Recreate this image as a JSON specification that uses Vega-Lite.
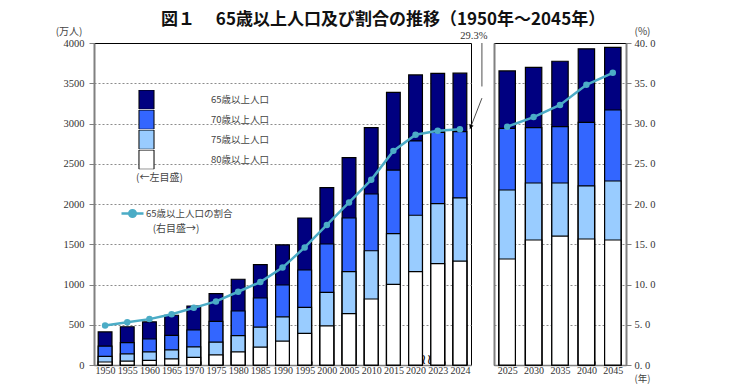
{
  "$schema": "https://vega.github.io/schema/vega-lite/v6.json",
  "padding": {"left": 54, "top": 10, "right": 5, "bottom": 1},
  "background": "white",
  "title": {"text": "図１　 65歳以上人口及び割合の推移（1950年～2045年）", "font": "Noto Sans CJK JP", "fontSize": 17, "fontWeight": "bold", "color": "#111", "anchor": "start", "frame": "group", "offset": -3, "dx": 67},
  "datasets": {
    "past": [
      {"year": "1950", "p65": 411, "p70": 234, "p75": 106, "p80": 37, "ratio": 4.9},
      {"year": "1955", "p65": 475, "p70": 277, "p75": 139, "p80": 47, "ratio": 5.3},
      {"year": "1960", "p65": 535, "p70": 323, "p75": 164, "p80": 57, "ratio": 5.7},
      {"year": "1965", "p65": 618, "p70": 369, "p75": 189, "p80": 75, "ratio": 6.3},
      {"year": "1970", "p65": 733, "p70": 435, "p75": 224, "p80": 95, "ratio": 7.1},
      {"year": "1975", "p65": 887, "p70": 543, "p75": 284, "p80": 126, "ratio": 7.9},
      {"year": "1980", "p65": 1065, "p70": 671, "p75": 366, "p80": 163, "ratio": 9.1},
      {"year": "1985", "p65": 1247, "p70": 832, "p75": 471, "p80": 221, "ratio": 10.3},
      {"year": "1990", "p65": 1493, "p70": 994, "p75": 599, "p80": 297, "ratio": 12.1},
      {"year": "1995", "p65": 1826, "p70": 1180, "p75": 717, "p80": 392, "ratio": 14.6},
      {"year": "2000", "p65": 2204, "p70": 1503, "p75": 901, "p80": 486, "ratio": 17.4},
      {"year": "2005", "p65": 2576, "p70": 1826, "p75": 1160, "p80": 639, "ratio": 20.2},
      {"year": "2010", "p65": 2948, "p70": 2124, "p75": 1419, "p80": 820, "ratio": 23.0},
      {"year": "2015", "p65": 3387, "p70": 2422, "p75": 1632, "p80": 1002, "ratio": 26.6},
      {"year": "2020", "p65": 3603, "p70": 2783, "p75": 1860, "p80": 1160, "ratio": 28.6},
      {"year": "2023", "p65": 3623, "p70": 2889, "p75": 2005, "p80": 1259, "ratio": 29.1},
      {"year": "2024", "p65": 3625, "p70": 2898, "p75": 2076, "p80": 1290, "ratio": 29.3}
    ],
    "future": [
      {"year": "2025", "p65": 3653, "p70": 2940, "p75": 2174, "p80": 1317, "ratio": 29.6},
      {"year": "2030", "p65": 3696, "p70": 2948, "p75": 2261, "p80": 1553, "ratio": 30.8},
      {"year": "2035", "p65": 3773, "p70": 2960, "p75": 2261, "p80": 1602, "ratio": 32.3},
      {"year": "2040", "p65": 3928, "p70": 3015, "p75": 2224, "p80": 1565, "ratio": 34.8},
      {"year": "2045", "p65": 3945, "p70": 3168, "p75": 2286, "p80": 1553, "ratio": 36.3}
    ]
  },
  "spacing": 23,
  "bounds": "flush",
  "hconcat": [
    {
      "width": 377,
      "height": 322,
      "data": {"name": "past"},
      "resolve": {"scale": {"y": "independent"}},
      "layer": [
        {
          "encoding": {
            "x": {"field": "year", "type": "nominal", "sort": null, "scale": {"paddingInner": 0.38, "paddingOuter": 0.19},
              "axis": {"title": null, "labelAngle": 0, "labelPadding": 4, "labelFont": "Liberation Serif", "labelFontSize": 10, "domainWidth": 1.5, "tickBand": "extent", "tickSize": -4}}
          },
          "layer": [
            {"mark": {"type": "bar", "stroke": "#000", "strokeWidth": 1.2},
              "encoding": {
                "y": {"field": "p65", "type": "quantitative", "title": "(万人)", "scale": {"domain": [0, 4000]},
                  "axis": {"format": "d", "labelFont": "Liberation Serif", "titleAngle": 0, "titleAlign": "right", "titleBaseline": "middle", "titleX": -12, "titleY": -12, "values": [0, 500, 1000, 1500, 2000, 2500, 3000, 3500, 4000], "tickSize": 5, "labelPadding": 5, "domainWidth": 2, "grid": true, "gridOpacity": {"condition": {"test": "datum.value === 4000", "value": 0}, "value": 1}}},
                "color": {"datum": "65歳以上人口",
                  "scale": {"domain": ["65歳以上人口", "70歳以上人口", "75歳以上人口", "80歳以上人口"], "range": ["#000080", "#3366FF", "#99CCFF", "#FFFFFF"]},
                  "legend": {"orient": "none", "legendX": 42, "legendY": 47, "title": "(←左目盛)", "titleOrient": "bottom", "titleAnchor": "start", "titlePadding": 4, "symbolType": "M-0.78,-1H0.78V1H-0.78Z", "symbolSize": 372, "symbolStrokeColor": "#000", "symbolStrokeWidth": 1, "symbolOpacity": 1, "rowPadding": 0, "clipHeight": 19.3, "labelOffset": 54, "padding": 0}}
              }},
            {"mark": {"type": "bar", "stroke": "#000", "strokeWidth": 1.2},
              "encoding": {"y": {"field": "p70", "type": "quantitative", "title": "(万人)"}, "color": {"datum": "70歳以上人口"}}},
            {"mark": {"type": "bar", "stroke": "#000", "strokeWidth": 1.2},
              "encoding": {"y": {"field": "p75", "type": "quantitative", "title": "(万人)"}, "color": {"datum": "75歳以上人口"}}},
            {"mark": {"type": "bar", "stroke": "#000", "strokeWidth": 1.2},
              "encoding": {"y": {"field": "p80", "type": "quantitative", "title": "(万人)"}, "color": {"datum": "80歳以上人口"}}},
            {"transform": [{"filter": "datum.year === '2020'"}],
              "mark": {"type": "text", "text": "≀≀", "xOffset": 11, "dy": 2, "fontSize": 14, "baseline": "bottom", "font": "DejaVu Sans", "color": "#000"},
              "encoding": {"y": {"datum": 0}}}
          ]
        },
        {
          "encoding": {"x": {"field": "year", "type": "nominal", "sort": null}},
          "layer": [
            {"mark": {"type": "line", "strokeWidth": 2.5},
              "encoding": {
                "y": {"field": "ratio", "type": "quantitative", "scale": {"domain": [0, 40]}, "axis": null},
                "stroke": {"datum": "65歳以上人口の割合", "scale": {"range": ["#4BACC6"]},
                  "legend": {"orient": "none", "legendX": 26, "legendY": 158, "title": "(右目盛→)", "titleOrient": "bottom", "titleAnchor": "middle", "titlePadding": 2, "symbolType": "M-1,0H1M-0.3,0A0.3,0.3,0,1,1,0.3,0A0.3,0.3,0,1,1,-0.3,0Z", "symbolSize": 484, "symbolStrokeWidth": 2.5, "symbolFillColor": "#4BACC6", "labelOffset": 1, "padding": 0}}
              }},
            {"mark": {"type": "point", "filled": true, "fill": "#4BACC6", "size": 42, "opacity": 1},
              "encoding": {"y": {"field": "ratio", "type": "quantitative"}}},
            {"transform": [{"filter": "datum.year === '2024'"}],
              "mark": {"type": "text", "text": "29.3%", "dx": 14, "dy": -93, "align": "center", "baseline": "middle", "font": "Liberation Serif", "fontSize": 10.5, "color": "#333"},
              "encoding": {"y": {"field": "ratio", "type": "quantitative"}}},
            {"transform": [{"filter": "datum.year === '2024'"}],
              "mark": {"type": "rule", "xOffset": 22, "color": "#222", "strokeWidth": 0.8},
              "encoding": {"y": {"datum": 40}, "y2": {"datum": 34.6}}},
            {"transform": [{"filter": "datum.year === '2024'"}],
              "mark": {"type": "point", "shape": "M0.194,-0.5L-0.194,0.5", "size": 3844, "filled": false, "stroke": "#222", "strokeWidth": 0.8, "opacity": 1, "xOffset": 16, "yOffset": -15.5},
              "encoding": {"y": {"field": "ratio", "type": "quantitative"}}},
            {"transform": [{"filter": "datum.year === '2024'"}],
              "mark": {"type": "point", "shape": "triangle", "angle": 201, "size": 22, "filled": true, "fill": "#000", "opacity": 1, "xOffset": 11, "yOffset": -3},
              "encoding": {"y": {"field": "ratio", "type": "quantitative"}}}
          ]
        }
      ]
    },
    {
      "width": 132,
      "height": 322,
      "data": {"name": "future"},
      "resolve": {"scale": {"y": "independent"}},
      "layer": [
        {
          "encoding": {
            "x": {"field": "year", "type": "nominal", "sort": null, "scale": {"paddingInner": 0.38, "paddingOuter": 0.19},
              "axis": {"title": "(年)", "titleX": 148, "titleY": 13, "titleFontSize": 9.5, "titleAlign": "center", "titleBaseline": "middle", "labelAngle": 0, "labelPadding": 4, "labelFont": "Liberation Serif", "labelFontSize": 10, "domainWidth": 1.5, "tickBand": "extent", "tickSize": -4}}
          },
          "layer": [
            {"mark": {"type": "bar", "fill": "#000080", "stroke": "#000", "strokeWidth": 1.2},
              "encoding": {"y": {"field": "p65", "type": "quantitative", "title": null, "scale": {"domain": [0, 4000]},
                "axis": {"labels": false, "ticks": false, "domainWidth": 2, "values": [0, 500, 1000, 1500, 2000, 2500, 3000, 3500, 4000], "grid": true, "gridOpacity": {"condition": {"test": "datum.value === 4000", "value": 0}, "value": 1}}}}},
            {"mark": {"type": "bar", "fill": "#3366FF", "stroke": "#000", "strokeWidth": 1.2},
              "encoding": {"y": {"field": "p70", "type": "quantitative", "title": null}}},
            {"mark": {"type": "bar", "fill": "#99CCFF", "stroke": "#000", "strokeWidth": 1.2},
              "encoding": {"y": {"field": "p75", "type": "quantitative", "title": null}}},
            {"mark": {"type": "bar", "fill": "#FFFFFF", "stroke": "#000", "strokeWidth": 1.2},
              "encoding": {"y": {"field": "p80", "type": "quantitative", "title": null}}}
          ]
        },
        {
          "encoding": {
            "x": {"field": "year", "type": "nominal", "sort": null},
            "y": {"field": "ratio", "type": "quantitative", "scale": {"domain": [0, 40]}, "title": "(%)",
              "axis": {"orient": "right", "values": [0, 5, 10, 15, 20, 25, 30, 35, 40], "labelFont": "Liberation Serif", "labelExpr": "replace(format(datum.value, '.1f'), '.', '. ')", "tickSize": 5, "labelPadding": 3, "domainWidth": 2, "grid": false, "titleAngle": 0, "titleAlign": "center", "titleBaseline": "middle", "titleX": 16, "titleY": -12}}
          },
          "layer": [
            {"mark": {"type": "line", "stroke": "#4BACC6", "strokeWidth": 2.5}},
            {"mark": {"type": "point", "filled": true, "fill": "#4BACC6", "size": 42, "opacity": 1}}
          ]
        }
      ]
    }
  ],
  "config": {
    "view": {"stroke": "#000", "strokeWidth": 1},
    "axis": {"labelFont": "Liberation Serif", "labelFontSize": 10.5, "labelColor": "#333", "domainColor": "#808080", "tickColor": "#808080", "gridColor": "#8c8c8c", "gridDash": [2, 2], "gridWidth": 1, "titleFont": "Noto Sans CJK JP", "titleFontWeight": "normal", "titleFontSize": 10, "titleColor": "#444"},
    "legend": {"labelFont": "Noto Sans CJK JP", "labelFontSize": 9.5, "labelColor": "#444", "titleFont": "Noto Sans CJK JP", "titleFontWeight": "normal", "titleFontSize": 10, "titleColor": "#444"}
  }
}
